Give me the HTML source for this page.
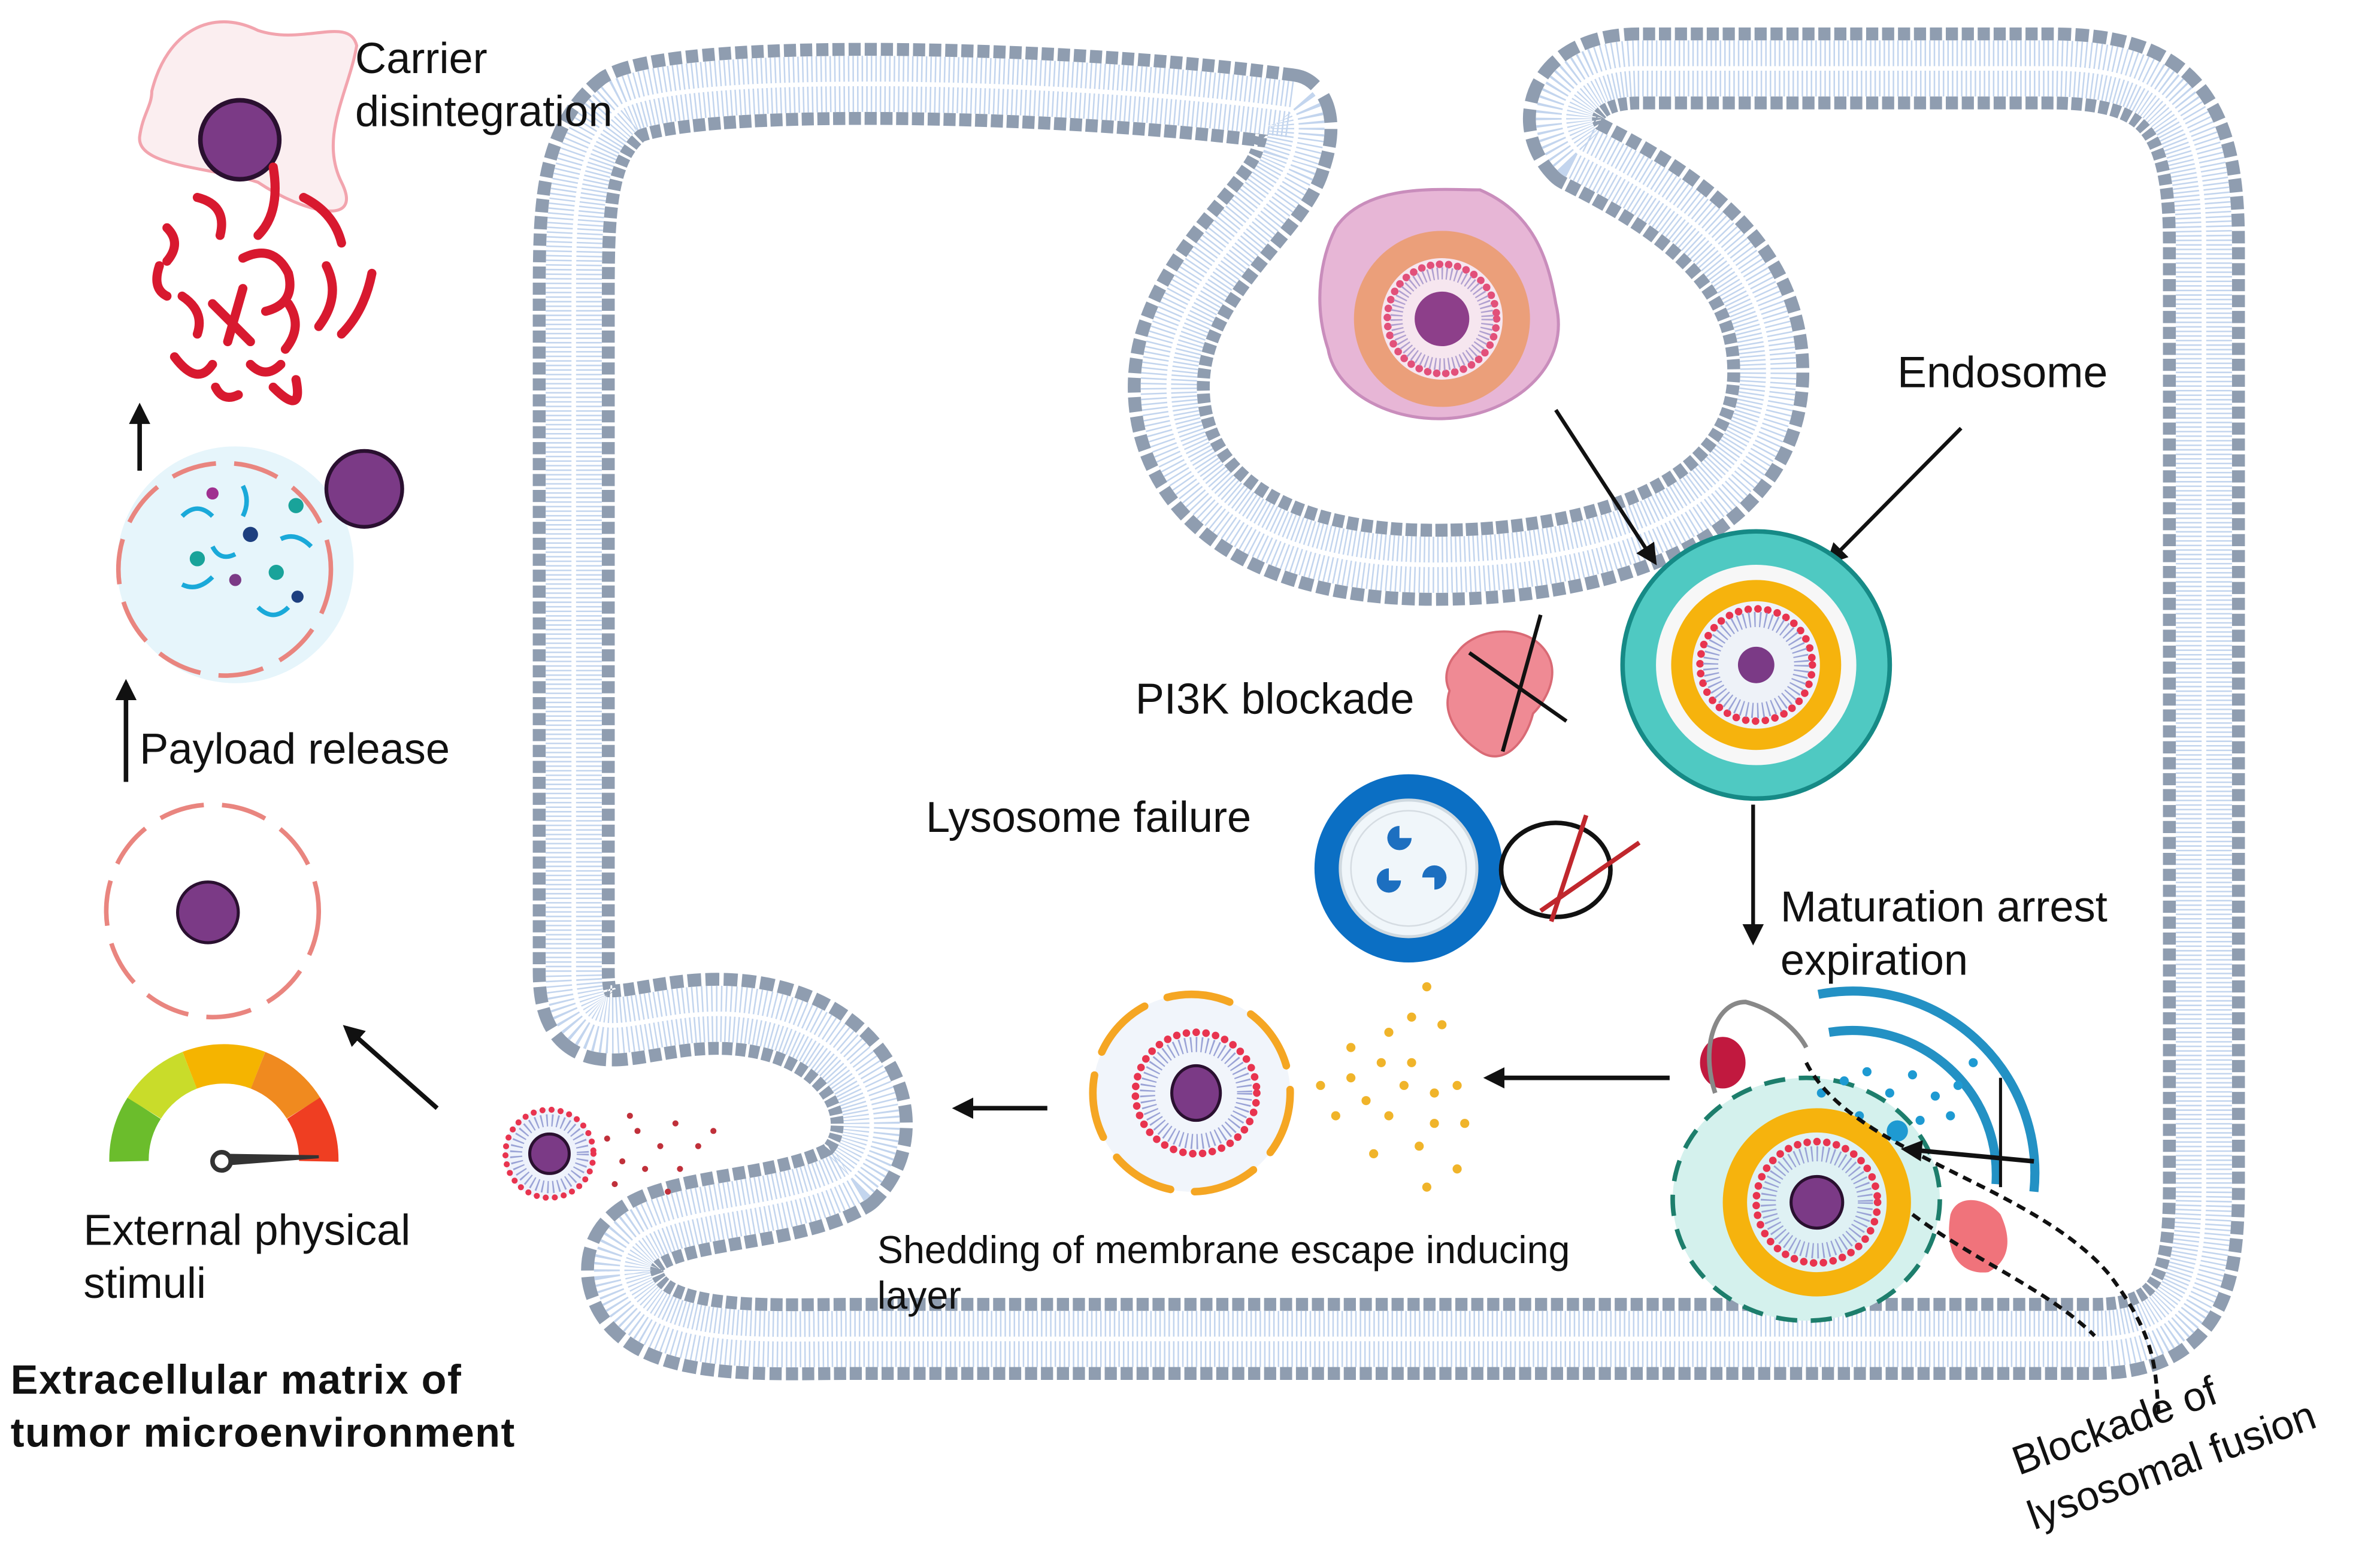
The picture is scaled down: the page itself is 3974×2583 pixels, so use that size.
<!DOCTYPE html>
<html><head><meta charset="utf-8"><style>
html,body{margin:0;padding:0;background:#fff}
svg{display:block}
text{font-family:"Liberation Sans",sans-serif;fill:#111}
</style></head><body>
<svg width="3974" height="2583" viewBox="0 0 1568 1019" xmlns="http://www.w3.org/2000/svg">
<defs>
<marker id="a" viewBox="0 0 10 10" refX="8" refY="5" markerWidth="14" markerHeight="14" orient="auto" markerUnits="userSpaceOnUse"><path d="M0,0 L10,5 L0,10 z" fill="#111"/></marker>
<path id="mem" d="M 850 72 C 700 52, 450 48, 410 70 C 378 95, 378 140, 378 200 L 378 640 C 378 700, 420 665, 480 668 C 565 672, 595 740, 560 775 C 510 805, 405 790, 410 840 C 418 888, 500 882, 560 882 L 1380 882 C 1445 882, 1452 840, 1452 780 L 1452 160 C 1452 70, 1425 45, 1350 45 L 1080 45 C 1030 45, 1020 80, 1040 100 C 1100 130, 1165 170, 1165 245 C 1165 335, 1060 372, 945 372 C 820 372, 770 315, 770 255 C 770 185, 840 140, 850 105 C 856 88, 855 76, 850 72 Z"/>
</defs>
<rect width="1568" height="1019" fill="#fff"/>

<!-- membrane -->
<g fill="none" stroke-linejoin="round">
<use href="#mem" stroke="#8f9db0" stroke-width="54" stroke-dasharray="8 2.5"/>
<use href="#mem" stroke="#fff" stroke-width="37"/>
<use href="#mem" stroke="#c3d5ee" stroke-width="37" stroke-dasharray="1 2"/>
<use href="#mem" stroke="#fff" stroke-width="3"/>
</g>

<!-- left column -->
<path d="M100 60 C 110 20, 140 5, 170 20 C 200 30, 230 10, 235 30 C 230 60, 210 90, 225 120 C 240 150, 200 140, 170 120 C 140 110, 90 110, 92 90 C 94 75, 100 70, 100 60 Z" fill="#fbeef0" stroke="#f2a4ae" stroke-width="2"/>
<circle cx="158" cy="92" r="26" fill="#7b3a86" stroke="#2a1030" stroke-width="3"/>
<g stroke="#d8192f" stroke-width="6" fill="none" stroke-linecap="round">
<path d="M110 150 q10 10 0 22"/><path d="M130 130 q20 5 15 25"/><path d="M180 110 q5 30 -10 45"/><path d="M160 170 q20 -10 30 10 q5 20 -15 25"/>
<path d="M120 195 q15 10 10 25"/><path d="M140 200 l25 25"/><path d="M150 225 l10 -35"/><path d="M200 130 q20 10 25 30"/>
<path d="M215 175 q10 20 -5 40"/><path d="M245 180 q-5 25 -20 40"/><path d="M115 235 q15 20 25 5"/><path d="M165 240 q10 10 20 0"/>
<path d="M180 255 q20 20 15 -5"/><path d="M105 175 q-5 15 5 20"/><path d="M190 200 q10 15 -2 30"/><path d="M142 255 q5 10 15 5"/>
</g>
<line x1="92" y1="310" x2="92" y2="268" stroke="#111" stroke-width="3" marker-end="url(#a)"/>
<circle cx="155" cy="372" r="78" fill="#e6f5fb"/>
<circle cx="148" cy="375" r="70" fill="none" stroke="#e9857f" stroke-width="3" stroke-dasharray="30 12"/>
<circle cx="240" cy="322" r="25" fill="#7b3a86" stroke="#2a1030" stroke-width="2.5"/>
<g stroke="#1aa9d9" stroke-width="3" fill="none"><path d="M120 340 q10 -10 20 0"/><path d="M160 320 q5 10 0 20"/><path d="M185 355 q10 -5 20 5"/><path d="M120 385 q10 5 20 -5"/><path d="M170 400 q10 10 20 0"/><path d="M140 360 q5 10 15 5"/></g>
<g><circle cx="140" cy="325" r="4" fill="#a03090"/><circle cx="165" cy="352" r="5" fill="#1d3f7f"/><circle cx="195" cy="333" r="5" fill="#19a39a"/><circle cx="130" cy="368" r="5" fill="#19a39a"/><circle cx="155" cy="382" r="4" fill="#7b3a86"/><circle cx="182" cy="377" r="5" fill="#19a39a"/><circle cx="196" cy="393" r="4" fill="#1d3f7f"/></g>
<line x1="83" y1="515" x2="83" y2="450" stroke="#111" stroke-width="3" marker-end="url(#a)"/>
<circle cx="140" cy="600" r="70" fill="none" stroke="#e9857f" stroke-width="3" stroke-dasharray="30 12"/>
<circle cx="137" cy="601" r="20" fill="#7b3a86" stroke="#2a1030" stroke-width="2"/>
<g fill="none" stroke-width="26">
<path d="M85 765 A62 62 0 0 1 95 730" stroke="#6bbd2c"/>
<path d="M95 730 A62 62 0 0 1 125 705" stroke="#c9dc2a"/>
<path d="M125 705 A62 62 0 0 1 170 705" stroke="#f5b400"/>
<path d="M170 705 A62 62 0 0 1 200 730" stroke="#f08a1f"/>
<path d="M200 730 A62 62 0 0 1 210 765" stroke="#ef3e22"/>
</g>
<path d="M146 767 L210 762 L146 761 Z" fill="#333" stroke="#333" stroke-width="2"/>
<circle cx="146" cy="765" r="6" fill="#fff" stroke="#333" stroke-width="3"/>
<line x1="288" y1="730" x2="228" y2="677" stroke="#111" stroke-width="3" marker-end="url(#a)"/>

<text x="234" y="48" font-size="28.5">Carrier</text>
<text x="234" y="83" font-size="28.5">disintegration</text>
<text x="92" y="503" font-size="28.5">Payload release</text>
<text x="55" y="820" font-size="28.5">External physical</text>
<text x="55" y="855" font-size="28.5">stimuli</text>
<text x="7" y="918" font-size="27" font-weight="bold" letter-spacing="0.6">Extracellular matrix  of</text>
<text x="7" y="953" font-size="27" font-weight="bold" letter-spacing="0.6">tumor microenvironment</text>

<!-- top pink cell -->
<path d="M880 150 C 900 120, 950 125, 975 125 C 1010 140, 1020 170, 1025 200 C 1035 240, 1000 270, 960 275 C 920 280, 880 260, 875 230 C 865 200, 870 170, 880 150 Z" fill="#e7b6d6" stroke="#c98dbc" stroke-width="2"/>
<circle cx="950" cy="210" r="58" fill="#eb9f7a"/>
<circle cx="950" cy="210" r="40" fill="#f6e6ef"/>
<circle cx="950" cy="210" r="36" fill="none" stroke="#e2507a" stroke-width="5" stroke-dasharray="0 6" stroke-linecap="round"/>
<circle cx="950" cy="210" r="30" fill="none" stroke="#b0a0d0" stroke-width="8" stroke-dasharray="1 2"/>
<circle cx="950" cy="210" r="18" fill="#8d3f8a"/>
<line x1="1025" y1="270" x2="1090" y2="370" stroke="#111" stroke-width="2.5" marker-end="url(#a)"/>

<text x="1250" y="255" font-size="29">Endosome</text>
<line x1="1292" y1="282" x2="1205" y2="370" stroke="#111" stroke-width="2.5" marker-end="url(#a)"/>
<circle cx="1157" cy="438" r="88" fill="#4fc9c2" stroke="#168a86" stroke-width="3"/>
<circle cx="1157" cy="438" r="66" fill="#f7f7f7"/>
<circle cx="1157" cy="438" r="56" fill="#f6b30d"/>
<circle cx="1157" cy="438" r="42" fill="#eef2f8"/>
<circle cx="1157" cy="438" r="37" fill="none" stroke="#e8344f" stroke-width="5" stroke-dasharray="0 6.5" stroke-linecap="round"/>
<circle cx="1157" cy="438" r="30" fill="none" stroke="#9aa3d6" stroke-width="10" stroke-dasharray="1 2.5"/>
<circle cx="1157" cy="438" r="12" fill="#7b3a86"/>

<text x="748" y="470" font-size="28.5">PI3K blockade</text>
<path d="M960 430 C 970 415, 1000 410, 1015 425 C 1030 440, 1020 460, 1010 470 C 1005 490, 990 505, 975 495 C 960 485, 950 470, 955 455 C 950 445, 955 435, 960 430 Z" fill="#ef8a94" stroke="#d96a75" stroke-width="1.5"/>
<line x1="1015" y1="405" x2="990" y2="495" stroke="#111" stroke-width="2.5"/>
<line x1="968" y1="430" x2="1032" y2="475" stroke="#111" stroke-width="2.5"/>

<text x="610" y="548" font-size="28.5">Lysosome failure</text>
<circle cx="928" cy="572" r="62" fill="#0b6fc4"/>
<circle cx="928" cy="572" r="45" fill="#f0f6fa" stroke="#cfd9e0" stroke-width="2"/>
<circle cx="928" cy="572" r="38" fill="none" stroke="#d5dce2" stroke-width="1"/>
<g fill="#1d6fc0"><path d="M922 552 l8 0 a8 8 0 1 1 -8 -8 z"/><path d="M945 578 l-8 0 a8 8 0 1 1 8 8 z"/><path d="M915 580 l0 -8 a8 8 0 1 0 8 8 z"/></g>
<ellipse cx="1025" cy="573" rx="36" ry="31" fill="none" stroke="#111" stroke-width="3"/>
<line x1="1045" y1="537" x2="1022" y2="607" stroke="#c0272d" stroke-width="3"/>
<line x1="1015" y1="600" x2="1080" y2="555" stroke="#c0272d" stroke-width="3"/>

<line x1="1155" y1="530" x2="1155" y2="620" stroke="#111" stroke-width="2.5" marker-end="url(#a)"/>
<text x="1173" y="607" font-size="28.5">Maturation arrest</text>
<text x="1173" y="642" font-size="28.5">expiration</text>

<!-- bottom right complex -->
<path d="M1205 680 A 95 95 0 0 1 1315 780" fill="none" stroke="#2391c4" stroke-width="6"/>
<path d="M1198 655 A 120 120 0 0 1 1340 785" fill="none" stroke="#2391c4" stroke-width="6"/>
<ellipse cx="1190" cy="790" rx="88" ry="80" fill="#d4f1ed" stroke="#1d7e6c" stroke-width="3" stroke-dasharray="14 9"/>
<g fill="#1e9ad2"><circle cx="1200" cy="720" r="3"/><circle cx="1215" cy="712" r="3"/><circle cx="1230" cy="706" r="3"/><circle cx="1245" cy="720" r="3"/><circle cx="1260" cy="708" r="3"/><circle cx="1275" cy="722" r="3"/><circle cx="1290" cy="715" r="3"/><circle cx="1225" cy="735" r="3"/><circle cx="1265" cy="738" r="3"/><circle cx="1285" cy="735" r="3"/><circle cx="1300" cy="700" r="3"/><circle cx="1250" cy="745" r="7"/></g>
<circle cx="1197" cy="792" r="62" fill="#f6b30d"/>
<circle cx="1197" cy="792" r="46" fill="#dff1f4"/>
<circle cx="1197" cy="792" r="40" fill="none" stroke="#e8344f" stroke-width="5" stroke-dasharray="0 6.5" stroke-linecap="round"/>
<circle cx="1197" cy="792" r="32" fill="none" stroke="#9aa3d6" stroke-width="10" stroke-dasharray="1 2.5"/>
<circle cx="1197" cy="792" r="17" fill="#7b3a86" stroke="#2a1030" stroke-width="2"/>
<ellipse cx="1135" cy="700" rx="15" ry="17" fill="#c1193f"/>
<path d="M1130 720 C 1120 690, 1130 660, 1150 660 C 1170 665, 1185 680, 1190 690" fill="none" stroke="#888" stroke-width="3"/>
<path d="M1285 800 C 1290 785, 1310 790, 1318 800 C 1325 815, 1325 830, 1310 838 C 1295 840, 1280 830, 1285 800 Z" fill="#f0737b"/>
<line x1="1340" y1="765" x2="1255" y2="757" stroke="#111" stroke-width="3" marker-end="url(#a)"/>
<line x1="1318" y1="710" x2="1318" y2="782" stroke="#111" stroke-width="2"/>
<path d="M1190 700 C 1220 760, 1340 780, 1390 840 C 1420 880, 1420 900, 1422 930" fill="none" stroke="#111" stroke-width="2.5" stroke-dasharray="6 4"/>
<path d="M1260 800 C 1300 830, 1350 850, 1380 880" fill="none" stroke="#111" stroke-width="2.5" stroke-dasharray="6 4"/>
<text x="0" y="0" font-size="27" transform="translate(1330 972) rotate(-20)">Blockade of</text>
<text x="0" y="0" font-size="27" transform="translate(1340 1008) rotate(-20)">lysosomal fusion</text>

<line x1="1100" y1="710" x2="980" y2="710" stroke="#111" stroke-width="3" marker-end="url(#a)"/>
<g fill="#f0b42a"><circle cx="940" cy="650" r="3"/><circle cx="915" cy="680" r="3"/><circle cx="930" cy="670" r="3"/><circle cx="950" cy="675" r="3"/><circle cx="910" cy="700" r="3"/><circle cx="930" cy="700" r="3"/><circle cx="925" cy="715" r="3"/><circle cx="945" cy="720" r="3"/><circle cx="960" cy="715" r="3"/><circle cx="890" cy="710" r="3"/><circle cx="900" cy="725" r="3"/><circle cx="880" cy="735" r="3"/><circle cx="870" cy="715" r="3"/><circle cx="915" cy="735" r="3"/><circle cx="945" cy="740" r="3"/><circle cx="965" cy="740" r="3"/><circle cx="935" cy="755" r="3"/><circle cx="905" cy="760" r="3"/><circle cx="960" cy="770" r="3"/><circle cx="940" cy="782" r="3"/><circle cx="890" cy="690" r="3"/></g>
<circle cx="785" cy="720" r="65" fill="#f1f5fb"/>
<circle cx="785" cy="720" r="65" fill="none" stroke="#f5a623" stroke-width="5" stroke-dasharray="42 16" stroke-linecap="round"/>
<circle cx="788" cy="720" r="40" fill="none" stroke="#e8344f" stroke-width="5" stroke-dasharray="0 6.5" stroke-linecap="round"/>
<circle cx="788" cy="720" r="32" fill="none" stroke="#9aa3d6" stroke-width="10" stroke-dasharray="1 2.5"/>
<ellipse cx="788" cy="720" rx="16" ry="18" fill="#7b3a86" stroke="#2a1030" stroke-width="2"/>
<line x1="690" y1="730" x2="630" y2="730" stroke="#111" stroke-width="3" marker-end="url(#a)"/>

<circle cx="362" cy="760" r="30" fill="#eef2fb"/>
<circle cx="362" cy="760" r="29" fill="none" stroke="#e8344f" stroke-width="4" stroke-dasharray="0 6" stroke-linecap="round"/>
<circle cx="362" cy="760" r="22" fill="none" stroke="#9aa3d6" stroke-width="8" stroke-dasharray="1 2.5"/>
<circle cx="362" cy="760" r="13" fill="#7b3a86" stroke="#2a1030" stroke-width="2"/>
<g fill="#c0303a"><circle cx="400" cy="750" r="2"/><circle cx="410" cy="765" r="2"/><circle cx="420" cy="745" r="2"/><circle cx="425" cy="770" r="2"/><circle cx="435" cy="755" r="2"/><circle cx="445" cy="740" r="2"/><circle cx="448" cy="770" r="2"/><circle cx="460" cy="755" r="2"/><circle cx="470" cy="745" r="2"/><circle cx="405" cy="780" r="2"/><circle cx="440" cy="785" r="2"/><circle cx="415" cy="735" r="2"/></g>

<text x="578" y="832" font-size="25.5">Shedding of membrane  escape inducing</text>
<text x="578" y="862" font-size="25.5">layer</text>
</svg>
</body></html>
